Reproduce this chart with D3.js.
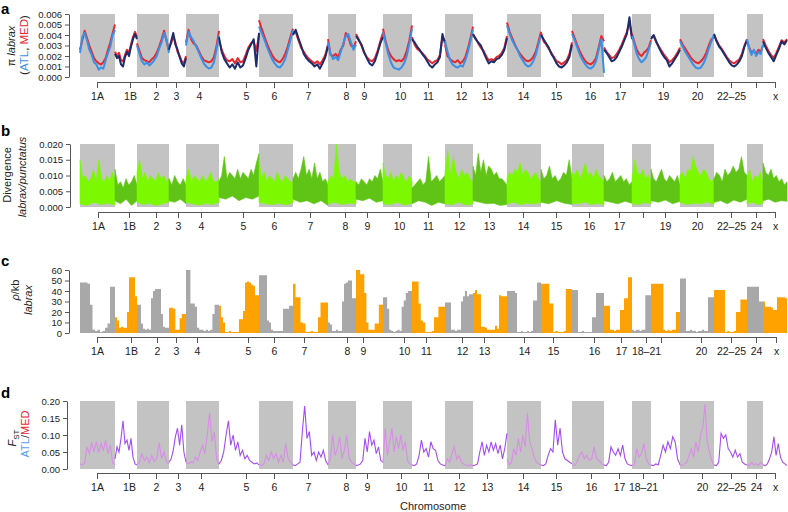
<!DOCTYPE html>
<html><head><meta charset="utf-8">
<script src="https://cdn.jsdelivr.net/npm/d3@7"></script>
<style>
body{margin:0;background:#fff}
svg{display:block}
text{font-family:"Liberation Sans",Arial,Helvetica,sans-serif}
</style>
</head><body>
<svg id="chart" width="788" height="512"></svg>
<script>
// ---------------- DATA ----------------
const chromosomes = ["1A","1B","2","3","4","5","6","7","8","9","10","11","12","13","14","15","16","17","18–21","19","20","22–25","24","x"];
// approximate chromosome lengths (Mb)
const chrLengths = [35,22,32,17,33,40,34,35,28,27,29,33,28,34,34,31,32,28,19,29,34,33,16,24];

// Panel a: nucleotide diversity pi (x 0.001), Atlantic and Mediterranean
const piATL = [
 [2.3,3.8,4.2,3.5,2.6,2.1,1.4,1.2,0.7,0.9,0.8,1.6,2.3,2.9,4.0,4.5],
 [2.2,1.8,2.0,1.2,1.0,1.9,2.4,2.0,2.9,3.6,4.1,3.6],
 [3.0,2.2,1.5,1.2,1.4,1.1,1.3,1.6,2.0,2.7,3.3,4.2,3.6,2.3],
 [2.6,3.4,4.2,3.1,2.6,1.9,1.3,1.0,1.8],
 [3.0,4.3,3.8,3.4,2.9,2.4,1.8,1.3,1.0,0.8,0.9,1.4,2.6,3.9],
 [3.8,2.4,1.7,1.3,0.9,1.2,0.8,1.4,0.9,1.1,1.8,2.6,3.1,3.6,1.0,4.2],
 [4.8,4.2,3.6,2.9,2.3,1.7,1.3,1.0,0.9,1.2,1.7,2.6,3.5,4.4],
 [4.0,4.5,3.7,3.0,2.2,1.8,1.5,1.3,1.0,1.2,0.8,1.3,1.9,2.9],
 [3.3,2.2,1.7,1.9,1.6,2.4,3.2,3.9,4.1,3.3,2.6,3.1],
 [3.9,3.5,3.1,2.4,1.8,1.3,1.1,1.5,2.3,3.2,3.8],
 [4.3,3.2,2.2,1.4,0.9,0.8,0.7,0.9,1.3,2.0,3.2,4.6],
 [3.6,3.3,2.9,2.6,2.2,1.9,1.5,1.1,0.9,1.2,1.4,1.9,4.1,3.2],
 [3.4,2.4,1.6,1.2,1.0,0.9,1.1,1.0,1.6,2.4,3.4,4.5],
 [4.1,3.6,3.3,3.0,2.4,1.8,1.3,1.5,1.4,1.7,1.8,2.1,2.6,3.7],
 [4.9,4.1,3.5,3.0,2.6,2.0,1.6,1.2,1.0,1.1,1.5,2.1,3.1,4.0],
 [4.0,3.6,3.2,2.8,2.2,1.8,1.3,1.0,0.9,1.1,1.4,1.9,3.1],
 [4.1,3.5,2.8,2.1,1.6,1.2,0.9,0.8,1.0,1.5,2.6,3.6,0.4],
 [2.6,2.3,1.9,1.5,1.6,1.9,2.4,2.9,3.5,4.1,5.7,3.6],
 [3.9,3.1,2.2,1.7,1.4,1.6,1.9,2.6,3.3],
 [3.6,4.0,3.4,2.8,2.3,1.9,1.6,1.0,1.3,1.7,2.1,2.6],
 [3.4,2.9,2.4,2.0,1.6,1.2,0.9,0.8,0.9,1.3,1.9,2.7,3.4,4.0],
 [4.1,3.4,2.9,2.6,2.2,1.8,1.4,1.1,1.0,1.2,1.5,2.0,2.9,3.5],
 [3.6,2.7,2.1,2.6,2.0,2.4,2.2,3.1],
 [3.4,2.8,2.3,1.9,1.5,2.1,2.7,3.4,3.1,3.5]
];
const piMED = [
 [2.6,3.5,4.4,3.7,3.0,2.4,1.8,1.5,1.3,1.2,1.4,1.8,2.6,3.3,4.2,5.0],
 [2.4,2.0,2.3,1.6,1.5,2.1,2.6,2.3,3.1,3.8,4.3,3.8],
 [3.2,2.5,1.8,1.6,1.5,1.4,1.7,1.9,2.3,2.9,3.6,4.4,3.4,2.5],
 [2.8,3.2,3.9,3.3,2.4,2.0,1.5,1.3,2.0],
 [3.3,4.5,3.6,3.2,3.0,2.5,2.0,1.6,1.5,1.4,1.5,1.9,2.9,4.4],
 [3.5,2.6,2.0,1.6,1.5,1.7,1.3,1.8,1.4,1.5,2.1,2.8,3.2,3.4,2.5,4.0],
 [5.4,4.6,3.9,3.2,2.6,2.1,1.7,1.5,1.4,1.7,2.2,2.9,3.8,4.6],
 [4.2,4.3,3.5,2.8,2.4,2.0,1.7,1.5,1.3,1.5,1.2,1.6,2.1,3.1],
 [3.6,2.1,2.0,2.2,1.9,2.6,3.0,4.2,3.8,3.0,2.8,3.4],
 [4.1,3.6,3.0,2.3,1.9,1.6,1.5,1.8,2.5,3.4,4.2],
 [4.6,3.4,2.5,2.0,1.7,1.5,1.6,1.5,1.8,2.5,3.5,4.9],
 [3.8,3.1,2.7,2.5,2.3,2.0,1.7,1.5,1.3,1.5,1.6,2.1,3.8,3.4],
 [3.1,2.0,1.7,1.5,1.4,1.6,1.3,1.5,1.9,2.7,3.7,4.8],
 [4.0,3.7,3.2,2.8,2.5,2.0,1.6,1.7,1.6,1.9,2.0,2.3,2.8,3.9],
 [5.2,4.3,3.7,3.1,2.6,2.2,1.9,1.6,1.5,1.6,1.9,2.4,3.3,4.3],
 [4.2,3.4,3.1,2.7,2.3,1.9,1.5,1.4,1.2,1.4,1.6,2.2,3.3],
 [4.4,3.7,3.0,2.4,1.9,1.5,1.3,1.2,1.4,1.8,2.8,3.9,3.4],
 [2.8,2.4,2.1,1.8,1.9,2.2,2.6,3.1,3.7,4.3,5.2,3.8],
 [4.1,3.3,2.6,2.2,2.0,2.3,2.5,2.8,3.5],
 [3.8,3.9,3.3,2.9,2.5,2.1,1.8,1.4,1.6,1.9,2.3,2.8],
 [3.6,3.1,2.7,2.3,1.9,1.6,1.4,1.3,1.5,1.8,2.3,3.0,3.6,3.8],
 [4.0,3.5,3.0,2.7,2.3,1.9,1.6,1.4,1.3,1.5,1.7,2.2,3.0,3.6],
 [3.4,2.8,2.3,2.5,2.2,2.6,2.4,3.0],
 [3.6,3.0,2.5,2.1,1.8,2.3,2.9,3.5,3.3,3.6]
];

// Panel b: divergence labrax/punctatus (x 0.001): upper and lower envelope
const divHi = [
 [15,9,10,8,9,12,8,15,9,8,10,8,11,9],
 [12,7,8,6,9,7,8,10,7],
 [11,15,9,11,8,10,9,8,11,9,10,8,9],
 [9,7,10,8,7,9,7],
 [9,12,8,10,9,8,10,8,9,11,8,8,9],
 [8,10,16,9,11,10,9,12,9,11,10,9,12,10,14,17],
 [15,9,11,8,10,9,8,11,9,8,10,9,8,8],
 [9,11,9,12,16,10,12,9,14,9,11,8,9,7],
 [8,10,9,20,11,9,10,8,9,8,8],
 [8,7,9,8,7,9,8,10,9,12,8],
 [14,10,9,11,8,10,9,11,9,8,10,8],
 [6,7,8,9,7,8,16,8,9,10,8,9,10],
 [11,18,10,16,11,9,12,10,11,9,8],
 [13,10,17,11,15,10,13,12,10,11,9,9,8,7],
 [9,11,10,12,11,14,10,12,11,9,10,11,9,8],
 [12,9,10,13,9,10,8,9,11,10,15,9],
 [11,10,12,9,11,14,10,11,9,12,10,9,8],
 [10,8,9,11,8,9,10,8,9,7,8],
 [9,15,11,10,12,9,10,8],
 [12,9,8,10,12,9,8,10,9,8,10,7],
 [10,11,9,12,11,16,13,11,10,12,11,9,8,9],
 [9,11,10,8,12,10,11,13,11,12,16,11,10],
 [9,12,8,10,9,11,8],
 [14,11,10,12,9,10,8,9,7,8]
];
const divLo = [
 [1.0,0.5,1.5,0.8,1.2,0.6],[2.0,1.0,2.5,0.5,2.0],[1.5,0.8,1.2,0.5,1.0,1.5],[2.0,1.5,2.5,1.0],
 [1.5,1.0,0.6,1.2,0.8,1.5],[3.0,2.5,3.5,2.0,3.0,2.5,3.5],[1.5,1.0,0.8,1.2,0.6,1.4],[2.5,1.5,2.0,1.0,2.0,0.5],
 [1.0,1.5,0.8,1.2,1.0],[2.5,2.0,2.8,1.5,2.0],[1.0,0.8,1.5,0.6,1.2],[1.0,2.0,1.5,0.5,1.5,1.0],
 [1.0,0.8,1.5,0.6,1.0],[2.0,1.5,1.0,1.2,0.5,0.8],[1.0,1.5,0.8,1.2,1.0,1.4],[1.5,1.0,2.0,1.2,0.8],
 [1.2,1.0,1.5,0.8,1.2,0.6],[2.0,1.5,1.0,1.8,1.2],[1.0,0.8,1.4,1.0],[2.0,1.5,2.2,1.0,1.8],
 [1.5,0.8,1.2,1.0,1.6,0.8],[1.5,2.0,1.0,2.2,1.5,2.5],[1.0,1.5,0.8,1.2],[2.0,2.5,1.5,2.0,1.8]
];

// Panel c: recombination rate rho/kb, binned per chromosome
const rhoBins = [
 [48,48,48,47,27,3,2,3,1,2,5,9,44,44],
 [15,12,5,6,5,5,20,53,53,53,35],
 [27,27,9,4,3,4,3,33,40,42,42,42,18,6,5,5],
 [24,24,23,3,3,14,18,18],
 [60,60,28,28,25,5,3,3,2,3,2,3,18,27,27],
 [26,15,10,1,1,2,1,1,1,1,13,13,21,48,49,48,46,45,36,36],
 [55,55,55,55,12,10,3,2,2,2,2,2,23,23,23,26,26],
 [47,34,34,10,9,1,1,2,1,1,15,29,29,29],
 [10,8,2,2,3,2,2,30,47,48,50,50,33,33],
 [60,60,56,56,38,10,3,3,3,9,9,27,27],
 [34,34,23,3,2,1,2,3,2,25,31,38,40,40],
 [49,49,49,28,12,10,1,1,1,2,15,15,25,25,25],
 [29,29,29,3,3,2,3,3,30,35,40,35,37,37],
 [38,41,37,37,6,6,5,3,3,3,3,7,4,36,35,35,35],
 [40,40,40,40,38,1,1,2,1,1,2,1,2,31,31,48,48],
 [47,47,47,47,28,28,1,2,1,1,1,2,42,42,42],
 [41,41,41,1,1,2,1,1,1,1,15,15,38,38,38,38],
 [26,26,26,3,3,2,3,3,22,22,33,33,53,53],
 [3,2,3,3,2,3,3,36,36,36],
 [47,47,47,47,47,47,3,2,3,2,3,3,20,20],
 [52,52,52,2,2,3,2,2,1,2,2,3,2,2,34,34,34],
 [41,41,41,41,41,1,2,1,1,2,20,20,32,32,32],
 [44,44,44,44,44,44,30,30],
 [30,25,25,25,24,22,22,34,34,34,34,33]
];

// Panel d: FST ATL/MED (x 0.01)
const fstVals = [
 [1.5,1.2,1.8,6.5,4.5,7.8,5.0,8.0,4.8,7.5,5.5,8.5,4.5,7.0,1.8,1.2],
 [3.0,6.5,5.0,9.0,14.2,7.5,8.5,5.5,9.0,3.5,1.5,1.2],
 [1.2,2.0,4.5,2.5,3.5,1.8,4.0,2.2,3.0,7.8,3.0,5.0,2.0,1.5],
 [2.0,3.0,5.5,9.5,12.0,7.0,13.0,5.0,2.0],
 [2.0,1.5,2.0,1.8,3.5,2.5,5.0,7.0,4.5,10.0,16.5,8.0,11.0,3.0,1.2],
 [1.5,2.5,5.0,10.0,14.2,7.0,10.0,5.5,8.0,4.0,5.5,3.0,4.0,2.5,2.0,1.5,1.8,1.2],
 [1.2,1.0,1.5,4.0,2.5,5.0,3.0,4.5,2.0,4.0,2.0,7.5,3.0,2.0,1.2],
 [1.2,1.0,1.5,2.0,11.0,18.5,9.0,11.0,4.0,5.0,2.5,5.0,3.5,5.5,2.5,1.2],
 [1.2,3.0,10.0,4.0,6.0,9.5,3.0,5.5,10.0,3.5,2.0,1.5,1.2],
 [1.0,1.2,1.5,2.5,9.0,5.0,11.0,7.0,8.5,4.5,6.5,2.5,2.0],
 [2.0,12.0,4.0,8.0,12.0,5.0,9.5,6.0,10.0,5.5,8.0,2.5,1.5,1.2],
 [1.2,1.0,1.5,4.0,8.5,5.0,6.0,3.5,8.0,6.0,5.5,2.5,1.5,1.2,1.0],
 [1.0,3.0,2.0,4.5,6.5,3.0,4.0,2.0,1.5,1.2,1.0,1.2,1.0],
 [1.0,1.2,1.5,5.0,8.0,4.0,7.0,5.0,8.0,5.5,7.5,4.5,7.0,3.0,6.0,10.5],
 [3.0,1.2,2.0,6.0,4.0,9.0,5.0,10.0,6.5,16.5,8.0,6.0,3.5,2.0,1.5,1.2],
 [1.2,1.0,1.5,4.0,6.0,5.0,14.5,7.0,12.0,5.0,3.0,2.5,2.0,1.5],
 [1.2,1.0,2.0,4.0,5.0,3.0,4.0,2.5,3.0,6.5,3.0,2.5,1.5,1.2],
 [1.2,1.0,2.0,6.5,5.0,4.0,6.0,4.0,7.0,3.0,1.5,1.2,1.0],
 [1.0,1.2,6.0,3.5,4.5,7.5,3.0,1.5,1.2],
 [1.2,1.0,1.5,1.2,4.0,7.0,5.0,8.0,6.0,9.5,8.0,3.0,1.2],
 [1.2,1.0,1.5,2.0,4.0,6.0,3.5,8.0,5.0,10.0,12.0,19.0,8.0,5.0,2.5,1.2],
 [1.2,1.0,2.0,10.5,9.0,10.0,6.0,5.0,3.5,5.5,3.5,4.5,2.0,1.5,1.2],
 [1.2,1.0,2.0,1.2,1.5,1.0,2.0,1.2],
 [1.2,1.0,1.5,3.0,5.0,9.5,4.0,7.5,3.5,2.0,1.5,1.0]
];

// Tick positions (Mb along the concatenated genome) and labels per panel
const ticksA = [17,50,76,96,119,166,194,228,266,284,320,348,381,407,443,476,510,540,563,583,617,651,676,695];
const labelsA = ["1A","1B","2","3","4","5","6","7","8","9","10","11","12","13","14","15","16","17","","19","20","22–25","","x"];
const ticksB = [18,49,76,98,121,163,194,230,265,287,319,348,379,409,443,476,509,539,563,585,617,651,676,695];
const labelsB = ["1A","1B","2","3","4","5","6","7","8","9","10","11","12","13","14","15","16","17","","19","20","22–25","24","x"];
const ticksC = [17,51,77,96,117,168,194,224,267,283,324,346,382,404,444,473,514,541,566,581,621,651,676,696];
const labelsC = ["1A","1B","2","3","4","5","6","7","8","9","10","11","12","13","14","15","16","17","18–21","","20","22–25","24","x"];
const ticksD = [17,49,76,98,121,166,194,228,266,287,321,348,379,407,443,476,511,539,563,583,622,651,676,695];
const labelsD = ["1A","1B","2","3","4","5","6","7","8","9","10","11","12","13","14","15","16","17","18–21","","20","22–25","24","x"];

const yTicksA = [0,0.001,0.002,0.003,0.004,0.005,0.006];
const yTicksB = [0,0.005,0.010,0.015,0.020];
const yTicksC = [0,10,20,30,40,50,60];
const yTicksD = [0,0.05,0.10,0.15,0.20];

// ---------------- DRAWING ----------------
const svg = d3.select("#chart");
const AXIS = "#555";
const BOX = "#c3c3c3";

const starts = [];
chrLengths.reduce((acc, l) => { starts.push(acc); return acc + l; }, 0);
const total = d3.sum(chrLengths);
const x = d3.scaleLinear().domain([0, total]).range([80, 787]);

function pts(i, arr) {
  const n = arr.length, s = starts[i], L = chrLengths[i];
  return arr.map((v, j) => [s + j * L / (n - 1), v]);
}

function grayBoxes(y) {
  svg.append("g").selectAll("rect")
    .data(chromosomes.map((c, i) => i).filter(i => i % 2 === 0))
    .join("rect")
    .attr("x", i => x(starts[i]))
    .attr("width", i => x(starts[i] + chrLengths[i]) - x(starts[i]))
    .attr("y", y.range()[1])
    .attr("height", y.range()[0] - y.range()[1])
    .attr("fill", BOX);
}

function xAxis(ticks, labels, yPos) {
  const ax = d3.axisBottom(x).tickValues(ticks).tickFormat((d, i) => labels[i])
    .tickSize(6).tickPadding(5).tickSizeOuter(0);
  const g = svg.append("g").attr("transform", `translate(0,${yPos})`).call(ax);
  g.select(".domain").remove();
  g.append("line").attr("x1", x(ticks[0])).attr("x2", x(ticks[ticks.length - 1]))
    .attr("y1", 0.5).attr("y2", 0.5).attr("stroke", AXIS);
  g.selectAll(".tick line").attr("stroke", AXIS);
  g.selectAll(".tick text").attr("font-size", 10.5).attr("fill", "#222")
    .attr("font-family", '"Liberation Sans",Arial,sans-serif');
}

function yAxis(y, ticks, fmt, xPos) {
  const ax = d3.axisLeft(y).tickValues(ticks).tickFormat(fmt).tickSize(4).tickPadding(3).tickSizeOuter(0);
  const g = svg.append("g").attr("transform", `translate(${xPos},0)`).call(ax);
  g.select(".domain").attr("stroke", AXIS);
  g.selectAll(".tick line").attr("stroke", AXIS);
  g.selectAll(".tick text").attr("font-size", 9.5).attr("fill", "#222")
    .attr("font-family", '"Liberation Sans",Arial,sans-serif');
}

function letter(t, yb) {
  svg.append("text").attr("x", 1).attr("y", yb).attr("font-weight", "bold")
    .attr("font-size", 15).attr("fill", "#000").text(t);
}

function vLabel(xb, yc, parts, size) {
  const t = svg.append("text").attr("transform", `translate(${xb},${yc}) rotate(-90)`)
    .attr("text-anchor", "middle").attr("font-size", size || 11).attr("fill", "#222");
  parts.forEach(p => {
    const s = t.append("tspan").text(p.t);
    if (p.c) s.attr("fill", p.c);
    if (p.i) s.attr("font-style", "italic");
    if (p.sub) s.attr("font-size", (size || 11) * 0.72).attr("dy", 3);
  });
  return t;
}

// ----- Panel a -----
const yA = d3.scaleLinear().domain([0, 0.006]).range([77, 14]);
grayBoxes(yA);
const lineA = d3.line().x(d => x(d[0])).y(d => yA(d[1] * 0.001));
const gA = svg.append("g").attr("fill", "none").attr("stroke-linejoin", "round");
piMED.forEach((arr, i) => gA.append("path").attr("d", lineA(pts(i, arr)))
  .attr("stroke", "#e8262e").attr("stroke-width", 2));
piATL.forEach((arr, i) => gA.append("path").attr("d", lineA(pts(i, arr)))
  .attr("stroke", i % 2 === 0 ? "#3a8fe6" : "#1d2d6c").attr("stroke-width", 2));
yAxis(yA, yTicksA, d => d.toFixed(3), 69);
xAxis(ticksA, labelsA, 82);
letter("a", 14);
vLabel(15, 46, [{t: "π "}, {t: "labrax", i: true}]);
vLabel(28, 45, [{t: "("}, {t: "ATL", c: "#3a8fe6"}, {t: ", "}, {t: "MED", c: "#e8262e"}, {t: ")"}], 11.5);

// ----- Panel b -----
const yB = d3.scaleLinear().domain([0, 0.020]).range([207, 144]);
grayBoxes(yB);
const lineB = d3.line().x(d => x(d[0])).y(d => yB(d[1] * 0.001));
const gB = svg.append("g");
divHi.forEach((arr, i) => {
  const poly = pts(i, arr).concat(pts(i, divLo[i]).reverse());
  const col = i % 2 === 0 ? "#7cf800" : "#5fc416";
  gB.append("path").attr("d", lineB(poly) + "Z").attr("fill", col)
    .attr("stroke", col).attr("stroke-width", 0.6).attr("stroke-linejoin", "miter");
});
yAxis(yB, yTicksB, d => d.toFixed(3), 70);
xAxis(ticksB, labelsB, 212);
letter("b", 136);
vLabel(11, 175, [{t: "Divergence"}]);
vLabel(26, 177, [{t: "labrax/punctatus", i: true}]);

// ----- Panel c -----
const yC = d3.scaleLinear().domain([0, 60]).range([333, 270]);
const areaC = d3.area().curve(d3.curveStepAfter).x(d => x(d[0])).y0(yC(0)).y1(d => yC(d[1]));
const gC = svg.append("g");
rhoBins.forEach((arr, i) => {
  const n = arr.length, s = starts[i], w = chrLengths[i] / n;
  const p = arr.map((v, j) => [s + j * w, v]);
  p.push([s + chrLengths[i], arr[n - 1]]);
  gC.append("path").attr("d", areaC(p)).attr("fill", i % 2 === 0 ? "#a8a8a8" : "#ffa200");
});
yAxis(yC, yTicksC, d => d, 69);
xAxis(ticksC, labelsC, 337);
letter("c", 266);
vLabel(19, 290, [{t: "ρ", i: true}, {t: "/kb"}]);
vLabel(32, 300, [{t: "labrax", i: true}]);

// ----- Panel d -----
const yD = d3.scaleLinear().domain([0, 0.20]).range([469, 401]);
grayBoxes(yD);
const lineD = d3.line().x(d => x(d[0])).y(d => yD(d[1] * 0.01));
const gD = svg.append("g").attr("fill", "none");
fstVals.forEach((arr, i) => gD.append("path").attr("d", lineD(pts(i, arr)))
  .attr("stroke", i % 2 === 0 ? "#d88ee6" : "#a44cf0").attr("stroke-width", 1.1));
yAxis(yD, yTicksD, d => d.toFixed(2), 67);
xAxis(ticksD, labelsD, 473);
letter("d", 398);
vLabel(16, 438, [{t: "F", i: true}, {t: "ST", sub: true}]);
vLabel(29, 434, [{t: "ATL", c: "#5b9cf0"}, {t: "/", c: "#222"}, {t: "MED", c: "#e8262e"}]);

svg.append("text").attr("x", 433).attr("y", 510).attr("text-anchor", "middle")
  .attr("font-size", 11).attr("fill", "#222").text("Chromosome");
</script>
</body></html>
